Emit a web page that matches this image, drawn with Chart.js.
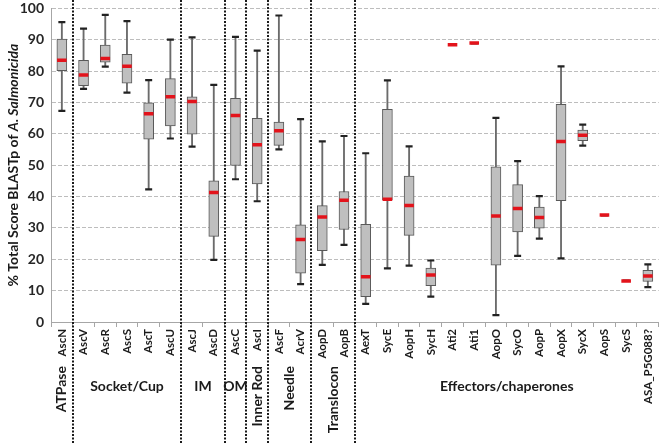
<!DOCTYPE html>
<html>
<head>
<meta charset="utf-8">
<script src="https://cdn.jsdelivr.net/npm/chart.js@4.4.0/dist/chart.umd.min.js"></script>
<style>
html,body{margin:0;padding:0;background:#fff;}
#wrap{width:667px;height:443px;position:relative;}
</style>
</head>
<body>
<div id="wrap"><canvas id="c"></canvas></div>
<script>
const categories = ['AscN','AscV','AscR','AscS','AscT','AscU','AscJ','AscD','AscC','AscI','AscF','AcrV','AopD','AopB','AexT','SycE','AopH','SycH','Ati2','Ati1','AopO','SycO','AopP','AopX','SycX','AopS','SycS','ASA_P5G088?'];
const maxV = [95.6,93.5,97.9,95.9,77.1,90.0,90.7,75.6,90.9,86.5,97.7,64.7,57.6,59.3,53.8,77.0,56.0,19.6,88.4,88.9,65.1,51.3,40.1,81.5,62.9,34.1,13.1,18.4];
const q3   = [90.2,83.4,88.3,85.3,69.9,77.6,71.8,45.0,71.3,64.9,63.7,31.0,37.1,41.6,31.1,67.8,46.5,17.2,88.4,88.9,49.5,43.8,36.6,69.4,61.2,34.1,13.1,16.5];
const med  = [83.4,78.7,84.0,81.5,66.4,71.8,70.3,41.3,65.8,56.5,61.0,26.3,33.5,38.8,14.4,39.1,37.1,15.0,88.4,88.9,33.8,36.2,33.3,57.5,59.5,34.1,13.1,14.7];
const q1   = [80.1,75.3,82.8,76.1,58.3,62.5,59.9,27.3,49.9,44.0,56.3,15.6,22.7,29.5, 8.1,38.9,27.6,11.6,88.4,88.9,18.1,28.7,29.9,38.7,57.8,34.1,13.1,12.9];
const minV = [67.3,74.3,81.4,73.1,42.3,58.5,55.9,19.8,45.5,38.5,55.0,12.1,18.2,24.6, 5.8,17.1,18.0, 8.1,88.4,88.9, 2.2,21.1,26.6,20.3,56.2,34.1,13.1,11.1];
const yTicks = [0,10,20,30,40,50,60,70,80,90,100];
const groupNames = ['ATPase','Socket/Cup','IM','OM','Inner Rod','Needle','Translocon','Effectors/chaperones'];
const groupSizes = [1,5,2,1,1,2,2,14];
const yTitleParts = [['% Total Score BLASTp of ', false], ['A. Salmonicida', true]];

const FONT = 'Lato, "Open Sans", sans-serif';

const groupPlugin = {
  id: 'groups',
  afterDraw(chart, args, opts) {
    const ctx = chart.ctx;
    const xs = chart.scales.x;
    const H = chart.height;
    let idx = 0;
    const bounds = [];
    groupSizes.forEach((n) => { bounds.push([idx, idx + n - 1]); idx += n; });
    // dotted dividers
    ctx.save();
    ctx.strokeStyle = '#1a1a1a';
    ctx.lineWidth = 2;
    ctx.setLineDash([2, 1.5]);
    bounds.forEach(([s, e], g) => {
      if (g === bounds.length - 1) return;
      const x = Math.round((xs.getPixelForValue(e) + xs.getPixelForValue(e + 1)) / 2);
      ctx.beginPath();
      ctx.moveTo(x, 0);
      ctx.lineTo(x, H);
      ctx.stroke();
    });
    ctx.restore();
    // group labels
    ctx.save();
    ctx.fillStyle = '#1a1a1a';
    ctx.font = 'bold 14px ' + FONT;
    bounds.forEach(([s, e], g) => {
      const cx = (xs.getPixelForValue(s) + xs.getPixelForValue(e)) / 2;
      if (opts.vertical[g]) {
        ctx.save();
        ctx.translate(cx, opts.vTop);
        ctx.rotate(-Math.PI / 2);
        ctx.textAlign = 'right';
        ctx.textBaseline = 'middle';
        ctx.fillText(groupNames[g], 0, 0);
        ctx.restore();
      } else {
        ctx.textAlign = 'center';
        ctx.textBaseline = 'middle';
        ctx.fillText(groupNames[g], cx, opts.hY);
      }
    });
    ctx.restore();
    // y axis title with italic species name
    const ca = chart.chartArea;
    ctx.save();
    const fonts = yTitleParts.map(p => (p[1] ? 'italic ' : '') + 'bold 14px ' + FONT);
    let total = 0;
    const widths = yTitleParts.map((p, i) => { ctx.font = fonts[i]; const w = ctx.measureText(p[0]).width; total += w; return w; });
    ctx.translate(opts.titleX, (ca.top + ca.bottom) / 2);
    ctx.rotate(-Math.PI / 2);
    ctx.textBaseline = 'middle';
    ctx.textAlign = 'left';
    ctx.fillStyle = '#1a1a1a';
    let x = -total / 2;
    yTitleParts.forEach((p, i) => { ctx.font = fonts[i]; ctx.fillText(p[0], x, 0); x += widths[i]; });
    ctx.restore();
  }
};

new Chart(document.getElementById('c'), {
  type: 'bar',
  data: {
    labels: categories,
    datasets: [
      {
        type: 'line', label: 'median', data: med, showLine: false,
        pointStyle: 'line', pointRadius: 4.8, pointHoverRadius: 4.8,
        pointBorderColor: '#e3131b', pointBorderWidth: 3.5, borderColor: '#e3131b', order: 0
      },
      {
        type: 'bar', label: 'box', data: q1.map((v, i) => [v, q3[i]]),
        backgroundColor: '#bfbfbf', borderColor: '#595959', borderWidth: 1, borderSkipped: false,
        barThickness: 10, grouped: false, order: 1
      },
      {
        type: 'line', label: 'max', data: maxV, showLine: false,
        pointStyle: 'line', pointRadius: 3.5, pointHoverRadius: 3.5,
        pointBorderColor: '#222', pointBorderWidth: 2.2, borderColor: '#222', order: 2
      },
      {
        type: 'line', label: 'min', data: minV, showLine: false,
        pointStyle: 'line', pointRadius: 3.5, pointHoverRadius: 3.5,
        pointBorderColor: '#222', pointBorderWidth: 2.2, borderColor: '#222', order: 2
      },
      {
        type: 'bar', label: 'whisker', data: minV.map((v, i) => [v, maxV[i]]),
        backgroundColor: '#6b6b6b', borderWidth: 0,
        barThickness: 1.2, grouped: false, order: 3
      }
    ]
  },
  options: {
    responsive: true,
    maintainAspectRatio: false,
    animation: false,
    events: [],
    layout: { padding: { top: 7, right: 4, left: 0, bottom: 0 } },
    plugins: {
      legend: { display: false },
      tooltip: { enabled: false },
      groups: { vertical: [true, false, false, false, true, true, true, false], vTop: 366, hY: 386, titleX: 13 }
    },
    scales: {
      x: {
        offset: true,
        grid: { display: true, offset: true, drawOnChartArea: false, drawTicks: true, tickLength: 5, color: '#a6a6a6' },
        border: { display: true, color: '#a6a6a6', width: 1 },
        ticks: {
          autoSkip: false, minRotation: 90, maxRotation: 90, padding: 2,
          color: '#1a1a1a', font: { family: FONT, size: 11.5, weight: 'bold' }
        },
        afterFit(axis) { axis.height = 121; axis.paddingLeft = 0; axis.paddingRight = 0; }
      },
      y: {
        min: 0, max: 100,
        afterBuildTicks(axis) { axis.ticks = yTicks.map(v => ({ value: v })); },
        grid: { color: '#bdbdbd', drawTicks: false, lineWidth: 1 },
        border: { display: true, color: '#a6a6a6', dash: [4, 2] },
        ticks: { padding: 7, color: '#262626', font: { family: FONT, size: 14, weight: 'bold' } },
        afterFit(axis) { axis.width = 51; axis.paddingTop = 0; axis.paddingBottom = 0; }
      }
    }
  },
  plugins: [groupPlugin]
});
</script>
</body>
</html>
